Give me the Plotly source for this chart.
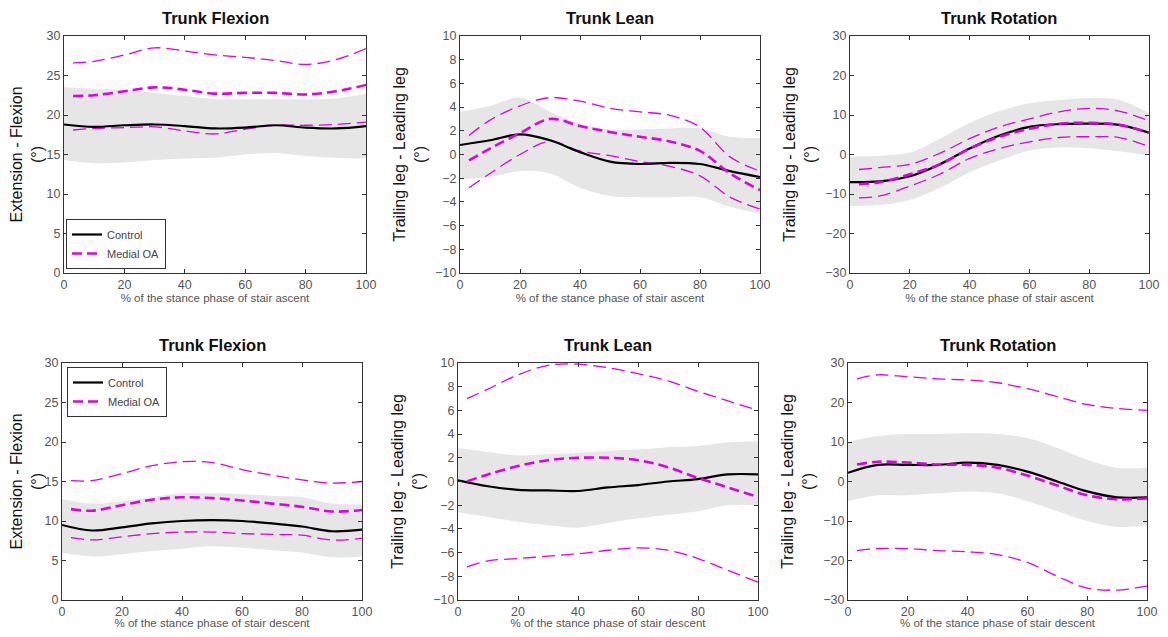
import plotly.graph_objects as go

# ---------------- data ----------------
X = [0, 10, 20, 30, 40, 50, 60, 70, 80, 90, 100]
X_OA = [3, 10, 20, 30, 40, 50, 60, 70, 80, 90, 100]

titles = ["Trunk Flexion", "Trunk Lean", "Trunk Rotation",
          "Trunk Flexion", "Trunk Lean", "Trunk Rotation"]
y_titles = ["Extension - Flexion<br>(°)", "Trailing leg - Leading leg<br>(°)",
            "Trailing leg - Leading leg<br>(°)"] * 2
x_titles = ["% of the stance phase of stair ascent"] * 3 + ["% of the stance phase of stair descent"] * 3
y_ranges = [(0, 30), (-10, 10), (-30, 30), (0, 30), (-10, 10), (-30, 30)]
y_dticks = [5, 2, 10, 5, 2, 10]

# Ascent - Trunk Flexion
ctrl_mean_1 = [18.8, 18.5, 18.7, 18.8, 18.6, 18.3, 18.4, 18.7, 18.4, 18.3, 18.6]
ctrl_up_1 = [23.5, 23.3, 23.2, 22.8, 22.4, 22.0, 22.0, 22.0, 22.0, 22.1, 22.7]
ctrl_lo_1 = [14.3, 13.9, 14.0, 14.3, 14.5, 14.6, 15.0, 15.2, 14.8, 14.6, 14.5]
oa_mean_1 = [22.4, 22.5, 23.0, 23.5, 23.2, 22.7, 22.8, 22.8, 22.6, 23.0, 23.8]
oa_up_1 = [26.6, 26.8, 27.6, 28.5, 28.1, 27.6, 27.3, 26.9, 26.4, 27.0, 28.4]
oa_lo_1 = [18.1, 18.3, 18.4, 18.5, 18.0, 17.6, 18.2, 18.7, 18.7, 18.8, 19.1]

# Ascent - Trunk Lean
ctrl_mean_2 = [0.8, 1.2, 1.7, 1.2, 0.2, -0.6, -0.8, -0.7, -0.8, -1.4, -1.9]
ctrl_up_2 = [3.6, 4.1, 4.8, 3.6, 2.6, 2.1, 2.1, 2.2, 2.2, 1.5, 1.4]
ctrl_lo_2 = [-2.1, -1.9, -1.4, -1.6, -2.8, -3.5, -3.6, -3.6, -3.6, -4.4, -5.0]
oa_mean_2 = [-0.5, 0.5, 1.8, 3.0, 2.4, 1.9, 1.5, 1.1, 0.3, -1.6, -3.0]
oa_up_2 = [1.6, 2.9, 4.1, 4.8, 4.5, 3.9, 3.6, 3.3, 2.3, -0.2, -1.4]
oa_lo_2 = [-2.8, -1.6, 0.0, 1.1, 0.3, -0.1, -0.6, -1.0, -1.8, -3.6, -4.6]

# Ascent - Trunk Rotation
ctrl_mean_3 = [-7.0, -6.8, -5.5, -2.5, 1.5, 4.8, 7.0, 7.7, 7.8, 7.5, 5.5]
ctrl_up_3 = [-0.5, -0.3, 0.5, 4.0, 8.0, 11.0, 13.0, 13.8, 14.3, 13.8, 10.5]
ctrl_lo_3 = [-13.0, -12.8, -11.5, -8.5, -4.5, -1.5, 1.0, 1.8, 1.6, 0.8, -0.2]
oa_mean_3 = [-7.5, -7.0, -5.0, -2.5, 1.5, 4.5, 6.5, 7.8, 8.0, 7.5, 5.5]
oa_up_3 = [-3.8, -3.3, -2.5, 0.3, 4.0, 7.0, 9.0, 10.8, 11.7, 11.0, 8.5]
oa_lo_3 = [-11.0, -10.5, -8.0, -5.0, -1.0, 1.5, 3.2, 4.3, 4.5, 4.3, 2.0]

# Descent - Trunk Flexion
ctrl_mean_4 = [9.5, 8.8, 9.2, 9.7, 10.0, 10.1, 10.0, 9.7, 9.3, 8.7, 8.9]
ctrl_up_4 = [12.8, 12.2, 12.5, 13.0, 13.5, 13.5, 13.4, 13.2, 13.0, 12.2, 12.1]
ctrl_lo_4 = [6.0, 5.5, 5.8, 6.2, 6.5, 6.8, 6.6, 6.3, 6.0, 5.4, 5.5]
oa_mean_4 = [11.5, 11.3, 12.0, 12.7, 13.0, 12.9, 12.6, 12.2, 11.8, 11.2, 11.4]
oa_up_4 = [15.1, 15.1, 16.0, 17.0, 17.5, 17.4, 16.5, 15.8, 15.2, 14.8, 15.0]
oa_lo_4 = [7.9, 7.6, 8.0, 8.4, 8.6, 8.6, 8.4, 8.3, 8.2, 7.6, 7.8]

# Descent - Trunk Lean
ctrl_mean_5 = [0.1, -0.4, -0.7, -0.75, -0.8, -0.5, -0.3, 0.0, 0.2, 0.6, 0.6]
ctrl_up_5 = [2.8, 2.5, 2.2, 2.3, 2.4, 2.6, 2.7, 2.9, 3.0, 3.3, 3.4]
ctrl_lo_5 = [-2.6, -3.0, -3.4, -3.7, -3.9, -3.5, -3.1, -2.8, -2.5, -2.0, -2.0]
oa_mean_5 = [0.0, 0.6, 1.3, 1.8, 2.0, 2.0, 1.8, 1.2, 0.3, -0.5, -1.3]
oa_up_5 = [7.0, 7.8, 9.0, 9.8, 9.9, 9.6, 9.1, 8.5, 7.6, 6.8, 6.0]
oa_lo_5 = [-7.2, -6.7, -6.5, -6.3, -6.1, -5.8, -5.6, -5.8, -6.5, -7.5, -8.5]

# Descent - Trunk Rotation
ctrl_mean_6 = [2.2, 4.2, 4.2, 4.2, 4.8, 4.2, 2.5, 0.0, -2.5, -4.0, -4.0]
ctrl_up_6 = [10.0, 11.5, 12.0, 12.0, 12.2, 12.0, 11.0, 8.5, 5.5, 3.5, 3.5]
ctrl_lo_6 = [-5.0, -3.5, -3.5, -3.0, -2.5, -3.0, -5.0, -7.5, -10.0, -11.5, -11.0]
oa_mean_6 = [4.3, 5.0, 4.8, 4.3, 4.2, 3.5, 1.5, -1.0, -3.5, -4.5, -4.3]
oa_up_6 = [26.0, 27.0, 26.5, 26.0, 25.7, 25.0, 23.5, 21.5, 19.5, 18.5, 18.0]
oa_lo_6 = [-17.5, -17.0, -17.0, -17.5, -17.8, -18.5, -20.5, -24.0, -27.0, -27.5, -26.5]

panels = [
    (ctrl_mean_1, ctrl_up_1, ctrl_lo_1, oa_mean_1, oa_up_1, oa_lo_1),
    (ctrl_mean_2, ctrl_up_2, ctrl_lo_2, oa_mean_2, oa_up_2, oa_lo_2),
    (ctrl_mean_3, ctrl_up_3, ctrl_lo_3, oa_mean_3, oa_up_3, oa_lo_3),
    (ctrl_mean_4, ctrl_up_4, ctrl_lo_4, oa_mean_4, oa_up_4, oa_lo_4),
    (ctrl_mean_5, ctrl_up_5, ctrl_lo_5, oa_mean_5, oa_up_5, oa_lo_5),
    (ctrl_mean_6, ctrl_up_6, ctrl_lo_6, oa_mean_6, oa_up_6, oa_lo_6),
]

# ---------------- layout geometry (pixels, page coordinates) ----------------
OFF = 8                      # page body margin of the html page
W, H = 1168 - 2 * OFF, 637 - 2 * OFF
x_px = [(64, 366), (460, 760), (850, 1149), (62, 362), (458, 758), (848, 1147)]
y_px = [(36, 273)] * 3 + [(363, 600)] * 3

MAG = "#e000e0"
BAND = "#e6e6e6"
FONT = "Liberation Sans, Arial, sans-serif"

fig = go.Figure()
layout = dict(width=W, height=H, margin=dict(l=0, r=0, t=0, b=0, autoexpand=False),
              plot_bgcolor="white", paper_bgcolor="white",
              font=dict(family=FONT, color="#444"), annotations=[])

for i, (cm, cu, cl, om, ou, ol) in enumerate(panels):
    n = i + 1
    xa = "x" if n == 1 else f"x{n}"
    ya = "y" if n == 1 else f"y{n}"
    leg = "legend" if n == 1 else ("legend2" if n == 4 else None)
    # band
    fig.add_trace(go.Scatter(x=X, y=cu, mode="lines", line=dict(width=0, shape="spline", color=BAND),
                             xaxis=xa, yaxis=ya, showlegend=False, hoverinfo="skip"))
    fig.add_trace(go.Scatter(x=X, y=cl, mode="lines", line=dict(width=0, shape="spline", color=BAND),
                             fill="tonexty", fillcolor=BAND, xaxis=xa, yaxis=ya,
                             showlegend=False, hoverinfo="skip"))
    # OA SD lines
    for arr in (ou, ol):
        fig.add_trace(go.Scatter(x=X_OA, y=arr, mode="lines",
                                 line=dict(color=MAG, width=1.3, dash="13px,6px", shape="spline"),
                                 xaxis=xa, yaxis=ya, showlegend=False))
    # control mean
    fig.add_trace(go.Scatter(x=X, y=cm, mode="lines", name="Control",
                             line=dict(color="black", width=2.2, shape="spline"),
                             xaxis=xa, yaxis=ya, showlegend=leg is not None,
                             legend=leg if leg else "legend"))
    # OA mean
    fig.add_trace(go.Scatter(x=X_OA, y=om, mode="lines", name="Medial OA",
                             line=dict(color=MAG, width=2.6, dash="10px,5px", shape="spline"),
                             xaxis=xa, yaxis=ya, showlegend=leg is not None,
                             legend=leg if leg else "legend"))

    x0, x1 = [v - OFF for v in x_px[i]]
    y0, y1 = [v - OFF for v in y_px[i]]
    xd = [x0 / W, x1 / W]
    yd = [(H - y1) / H, (H - y0) / H]
    xkey = "xaxis" if n == 1 else f"xaxis{n}"
    ykey = "yaxis" if n == 1 else f"yaxis{n}"
    layout[xkey] = dict(domain=xd, anchor=ya, range=[0, 100], dtick=20, tick0=0,
                        automargin=False, ticklabeloverflow="allow",
                        showline=True, mirror="ticks", linecolor="#333", linewidth=1,
                        ticks="inside", ticklen=4, tickcolor="#333", showgrid=False, zeroline=False,
                        tickfont=dict(size=12.5, color="#555"),
                        title=dict(text=x_titles[i], font=dict(size=11.5, color="#555"), standoff=2))
    layout[ykey] = dict(domain=yd, anchor=xa, range=list(y_ranges[i]), dtick=y_dticks[i],
                        automargin=False,
                        showline=True, mirror="ticks", linecolor="#333", linewidth=1,
                        ticks="inside", ticklen=4, tickcolor="#333", showgrid=False, zeroline=False,
                        tickfont=dict(size=12.5, color="#555"),
                        title=dict(text=y_titles[i], font=dict(size=16, color="#111"), standoff=4))
    layout["annotations"].append(dict(text=f"<b>{titles[i]}</b>", x=(xd[0] + xd[1]) / 2,
                                      y=(H - y0 + 7) / H, xref="paper", yref="paper",
                                      xanchor="center", yanchor="bottom", showarrow=False,
                                      font=dict(size=16.5, color="#111", family=FONT)))

legstyle = dict(bgcolor="white", bordercolor="#333", borderwidth=1,
                font=dict(size=11, color="#444"), xanchor="left",
                itemwidth=30, tracegroupgap=0, traceorder="normal")
layout["legend"] = dict(x=(66 - OFF) / W, y=(H - (269 - OFF)) / H, yanchor="bottom", **legstyle)
layout["legend2"] = dict(x=(67 - OFF) / W, y=(H - (367 - OFF)) / H, yanchor="top", **legstyle)

fig.update_layout(**layout)
fig.write_html("out.html")
